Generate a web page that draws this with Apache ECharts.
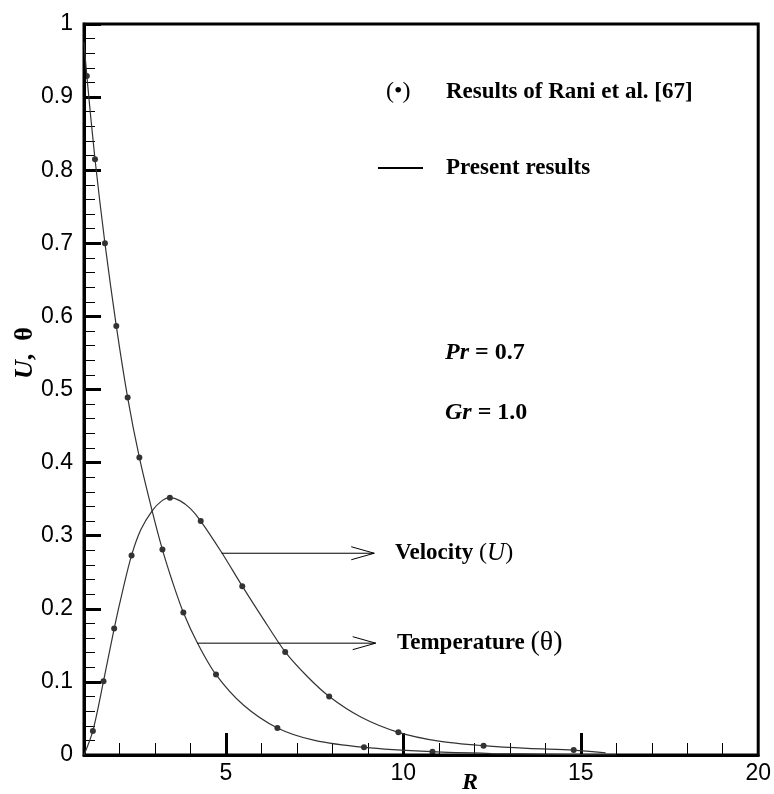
<!DOCTYPE html>
<html><head><meta charset="utf-8">
<script src="https://cdn.jsdelivr.net/npm/echarts@6/dist/echarts.min.js"></script>
<style>html,body{margin:0;padding:0;background:#fff}#c{width:774px;height:794px}</style>
</head><body><div id="c"></div>
<script>
// Present results (solid lines)
const thetaLineR = [1.0, 1.08, 1.31, 1.59, 1.91, 2.23, 2.56, 2.92, 3.21, 3.5, 3.8, 4.2, 4.72, 5.5, 6.45, 7.5, 8.9, 10.8, 12.5, 14, 16];
const thetaLineV = [0.975, 0.929, 0.815, 0.700, 0.587, 0.489, 0.407, 0.334, 0.281, 0.236, 0.195, 0.153, 0.110, 0.068, 0.037, 0.020, 0.0105, 0.0045, 0.002, 0.001, 0];
const velLineR = [1.0, 1.25, 1.55, 1.85, 2.1, 2.34, 2.6, 2.92, 3.2, 3.42, 3.7, 4.0, 4.29, 4.88, 5.46, 6.0, 6.67, 7.3, 7.91, 8.8, 9.86, 11, 12.26, 13.5, 14.8, 15.7];
const velLineV = [0, 0.033, 0.101, 0.173, 0.227, 0.273, 0.308, 0.334, 0.348, 0.352, 0.348, 0.337, 0.320, 0.277, 0.231, 0.190, 0.141, 0.107, 0.080, 0.052, 0.031, 0.019, 0.0127, 0.009, 0.0068, 0.003];
// Results of Rani et al. (dots)
const raniThetaR = [1.08, 1.31, 1.59, 1.91, 2.23, 2.56, 3.21, 3.80, 4.72, 6.45, 8.89, 10.82];
const raniThetaV = [0.929, 0.815, 0.700, 0.587, 0.489, 0.407, 0.281, 0.195, 0.110, 0.037, 0.0105, 0.0045];
const raniVelR = [1.25, 1.55, 1.85, 2.34, 3.42, 4.29, 5.46, 6.67, 7.91, 9.86, 12.26, 14.8];
const raniVelV = [0.033, 0.101, 0.173, 0.273, 0.352, 0.320, 0.231, 0.141, 0.080, 0.031, 0.0127, 0.0068];
// axis ticks
const xLabelValues = [5, 10, 15, 20];
const xMajorTicks = [5, 10, 15];
// annotation arrows: [startR, endR, value]
const velArrow = [4.88, 9.18, 0.276];
const thetaArrow = [4.19, 9.22, 0.153];

const pair = (xs, ys) => xs.map((x, i) => [x, ys[i]]);
const serif = '"Liberation Serif", "Times New Roman", serif';
const sans = '"Liberation Sans", Arial, sans-serif';

const chart = echarts.init(document.getElementById('c'), null, {renderer: 'canvas'});
const option = {
  animation: false,
  backgroundColor: '#fff',
  grid: {left: 84, right: 15, top: 24, bottom: 39, show: true, borderColor: '#000', borderWidth: 3, backgroundColor: 'transparent'},
  xAxis: [
    {type: 'value', min: 1, max: 20, interval: 1,
     axisLine: {show: true, lineStyle: {color: '#000', width: 3}},
     axisTick: {show: true, inside: true, length: 12, lineStyle: {color: '#000', width: 1}},
     axisLabel: {customValues: xLabelValues, color: '#000', fontFamily: sans, fontSize: 23, margin: 7},
     splitLine: {show: false}},
    {type: 'value', min: 1, max: 20, position: 'bottom',
     axisLine: {show: false},
     axisTick: {show: true, inside: true, length: 22, customValues: xMajorTicks, lineStyle: {color: '#000', width: 3}},
     axisLabel: {show: false}, splitLine: {show: false}}
  ],
  yAxis: {type: 'value', min: 0, max: 1, interval: 0.1,
    axisLine: {show: true, lineStyle: {color: '#000', width: 3}},
    axisTick: {show: true, inside: true, length: 17, lineStyle: {color: '#000', width: 3}},
    minorTick: {show: true, splitNumber: 5, length: 11, lineStyle: {color: '#000', width: 1}},
    axisLabel: {color: '#000', fontFamily: sans, fontSize: 23, margin: 11},
    splitLine: {show: false}, minorSplitLine: {show: false}},
  series: [
    {type: 'line', name: 'theta', data: pair(thetaLineR, thetaLineV), smooth: 0.3, symbol: 'none',
     lineStyle: {color: '#333', width: 1.2}},
    {type: 'line', name: 'U', data: pair(velLineR, velLineV), smooth: 0.3, symbol: 'none',
     lineStyle: {color: '#333', width: 1.2}},
    {type: 'scatter', name: 'Rani theta', data: pair(raniThetaR, raniThetaV), symbolSize: 6,
     itemStyle: {color: '#000'}},
    {type: 'scatter', name: 'Rani U', data: pair(raniVelR, raniVelV), symbolSize: 6,
     itemStyle: {color: '#000'}}
  ]
};
chart.setOption(option);

function arrowGraphics(a) {
  const p0 = chart.convertToPixel({gridIndex: 0}, [a[0], a[2]]);
  const p1 = chart.convertToPixel({gridIndex: 0}, [a[1], a[2]]);
  return [
    {type: 'polyline', shape: {points: [p0, p1]}, style: {stroke: '#000', lineWidth: 1, fill: null}, z: 10},
    {type: 'polyline', shape: {points: [[p1[0] - 23, p1[1] - 6.5], p1, [p1[0] - 23, p1[1] + 6.5]]},
     style: {stroke: '#000', lineWidth: 1, fill: null}, z: 10}
  ];
}

const txt = (x, y, text, rich, extra) => Object.assign({type: 'text', x: x, y: y, z: 20,
  style: Object.assign({text: text, fill: '#000', font: 'bold 23px ' + serif, verticalAlign: 'middle', rich: rich || {}}, extra || {})});

const richCommon = {
  b: {fontFamily: serif, fontWeight: 'bold', fontSize: 23, fill: '#000'},
  b24: {fontFamily: serif, fontWeight: 'bold', fontSize: 24, fill: '#000'},
  bi: {fontFamily: serif, fontWeight: 'bold', fontStyle: 'italic', fontSize: 24, fill: '#000'},
  by: {fontFamily: serif, fontWeight: 'bold', fontSize: 26, fill: '#000'},
  byi: {fontFamily: serif, fontWeight: 'bold', fontStyle: 'italic', fontSize: 26, fill: '#000'},
  n: {fontFamily: serif, fontWeight: 'normal', fontSize: 24, fill: '#000'},
  nt: {fontFamily: serif, fontWeight: 'normal', fontSize: 28, fill: '#000'},
  i: {fontFamily: serif, fontStyle: 'italic', fontWeight: 'normal', fontSize: 25, fill: '#000'}
};

const graphics = [].concat(
  arrowGraphics(velArrow),
  arrowGraphics(thetaArrow),
  [
    txt(386, 92, '{n|(•)}', richCommon),
    txt(446, 92, 'Results of Rani et al. [67]'),
    {type: 'line', shape: {x1: 378, y1: 168, x2: 423, y2: 168}, style: {stroke: '#000', lineWidth: 2}, z: 20},
    txt(446, 168, 'Present results'),
    txt(445, 353, '{bi|Pr}{b24| = 0.7}', richCommon),
    txt(445, 413, '{bi|Gr}{b24| = 1.0}', richCommon),
    txt(395, 553, '{b|Velocity }{n|(}{i|U}{n|)}', richCommon),
    txt(397, 643, '{b|Temperature }{nt|(θ)}', richCommon),
    txt(470, 783, '{bi|R}', richCommon, {align: 'center'}),
    {type: 'text', x: 25, y: 353, rotation: Math.PI / 2, z: 20,
     style: {text: '{byi|U}{by|,  θ}', rich: richCommon, align: 'center', verticalAlign: 'middle'}}
  ]
);
chart.setOption({graphic: graphics});
</script>
</body></html>
